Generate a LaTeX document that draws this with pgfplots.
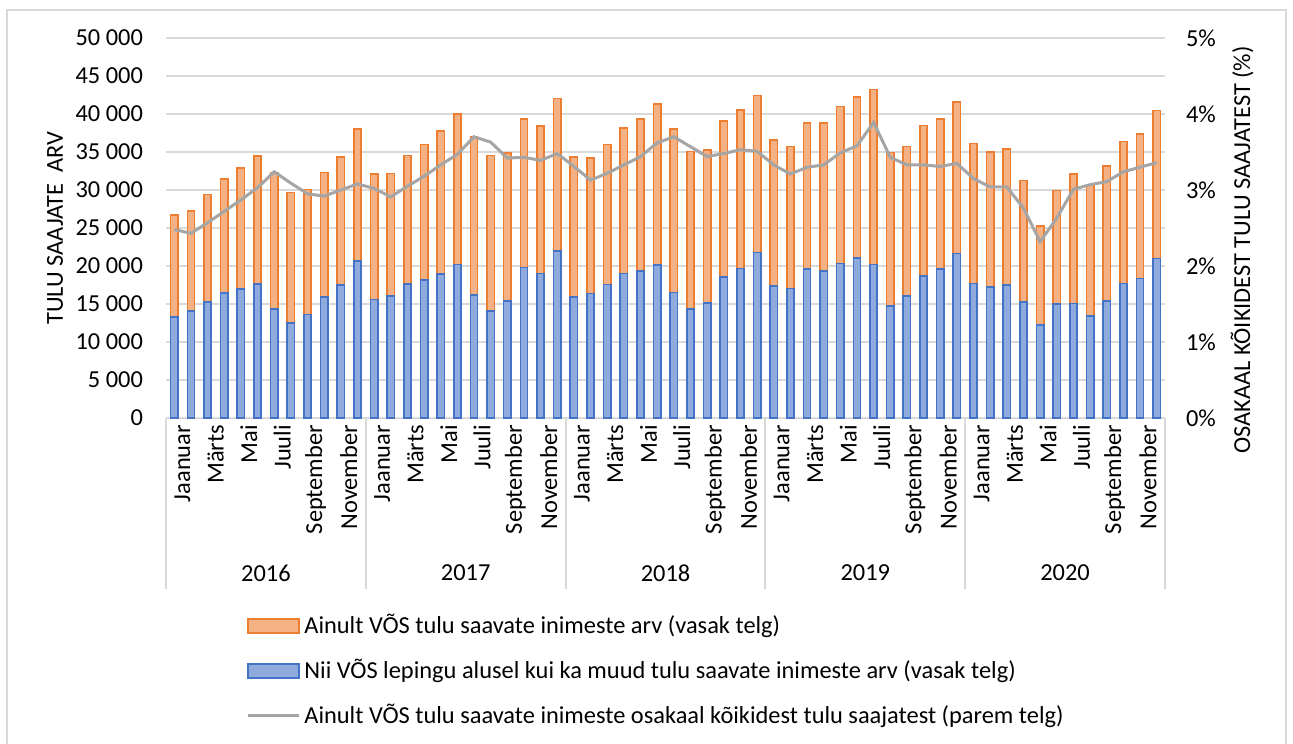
\documentclass[border=0pt]{standalone}
\usepackage{pgfplots}
\pgfplotsset{compat=1.18}
\usepackage{pgfplotstable}
\usepackage{fontspec}
\setmainfont{Carlito}
\definecolor{obar}{HTML}{F4B183}
\definecolor{oedge}{HTML}{ED7D31}
\definecolor{bbar}{HTML}{8FAADC}
\definecolor{bedge}{HTML}{4472C4}
\definecolor{lgray}{HTML}{A5A5A5}
\definecolor{gridc}{HTML}{D9D9D9}
\pgfplotstableread{
x blue orange pct
0 13300 13400 2.48
1 14050 13220 2.43
2 15240 14190 2.57
3 16430 14980 2.72
4 16960 15940 2.87
5 17620 16870 3.03
6 14320 17880 3.24
7 12470 17180 3.09
8 13610 16480 2.95
9 15950 16380 2.92
10 17490 16830 3.00
11 20620 17400 3.08
12 15590 16480 3.02
13 16080 16080 2.91
14 17620 16920 3.05
15 18190 17800 3.18
16 18940 18810 3.33
17 20220 19780 3.47
18 16170 20790 3.70
19 14100 20440 3.63
20 15420 19470 3.42
21 19780 19600 3.43
22 19030 19380 3.39
23 21980 20040 3.48
24 15950 18370 3.31
25 16390 17790 3.13
26 17580 18410 3.22
27 19030 19120 3.33
28 19380 19960 3.44
29 20130 21190 3.62
30 16520 21540 3.70
31 14320 20740 3.57
32 15150 20090 3.44
33 18590 20480 3.48
34 19690 20840 3.53
35 21760 20660 3.51
36 17400 19210 3.33
37 17050 18680 3.21
38 19600 19250 3.30
39 19340 19510 3.33
40 20350 20620 3.49
41 21060 21180 3.58
42 20220 22990 3.89
43 14710 20220 3.43
44 16030 19700 3.33
45 18720 19780 3.33
46 19600 19740 3.31
47 21630 19950 3.35
48 17710 18410 3.15
49 17270 17750 3.04
50 17530 17840 3.04
51 15290 15940 2.76
52 12250 12990 2.32
53 14980 14930 2.63
54 15070 17040 3.01
55 13440 17260 3.07
56 15420 17750 3.11
57 17710 18680 3.24
58 18370 18980 3.30
59 21010 19430 3.36
}\data

\begin{document}
\begin{tikzpicture}[font=\fontsize{12.2}{14.6}\selectfont]
\useasboundingbox (0,0) rectangle (646.5pt,-371.5pt);
\draw[gridc, line width=1pt] (3.5pt,-5pt) rectangle (643pt,-400pt);
\begin{axis}[
  at={(83pt,-209pt)}, anchor=south west,
  scale only axis, width=499.5pt, height=190pt,
  xmin=-0.5, xmax=59.5, ymin=0, ymax=50000,
  clip=false,
  scaled y ticks=false,
  ybar stacked, bar width=0.44,
  axis line style={draw=none},
  ymajorgrids, grid style={gridc, line width=1pt},
  major tick length=0pt,
  tick label style={font=\fontsize{12.2}{14.6}\selectfont},
  ytick={0,5000,10000,15000,20000,25000,30000,35000,40000,45000,50000},
  yticklabels={0,5 000,10 000,15 000,20 000,25 000,30 000,35 000,40 000,45 000,50 000},
  yticklabel style={xshift=-8pt},
  xtick={0,2,...,58},
  xticklabels={Jaanuar,Märts,Mai,Juuli,September,November,Jaanuar,Märts,Mai,Juuli,September,November,Jaanuar,Märts,Mai,Juuli,September,November,Jaanuar,Märts,Mai,Juuli,September,November,Jaanuar,Märts,Mai,Juuli,September,November},
  xticklabel style={rotate=90, anchor=east, yshift=-4pt},
]
\addplot[fill=bbar, draw=bedge, line width=0.8pt] table[x=x,y=blue]{\data};
\addplot[fill=obar, draw=oedge, line width=0.8pt] table[x=x,y=orange]{\data};
\draw[gridc, line width=1pt] (axis cs:-0.5,0) -- (axis cs:59.5,0);
\draw[gridc, line width=1pt] (axis cs:-0.5,0) -- ([yshift=-85.5pt]axis cs:-0.5,0);
\draw[gridc, line width=1pt] (axis cs:11.5,0) -- ([yshift=-85.5pt]axis cs:11.5,0);
\draw[gridc, line width=1pt] (axis cs:23.5,0) -- ([yshift=-85.5pt]axis cs:23.5,0);
\draw[gridc, line width=1pt] (axis cs:35.5,0) -- ([yshift=-85.5pt]axis cs:35.5,0);
\draw[gridc, line width=1pt] (axis cs:47.5,0) -- ([yshift=-85.5pt]axis cs:47.5,0);
\draw[gridc, line width=1pt] (axis cs:59.5,0) -- ([yshift=-85.5pt]axis cs:59.5,0);
\node at ([yshift=-77.5pt]axis cs:5.5,0) {2016};
\node at ([yshift=-77.5pt]axis cs:17.5,0) {2017};
\node at ([yshift=-77.5pt]axis cs:29.5,0) {2018};
\node at ([yshift=-77.5pt]axis cs:41.5,0) {2019};
\node at ([yshift=-77.5pt]axis cs:53.5,0) {2020};
\end{axis}
\begin{axis}[
  at={(83pt,-209pt)}, anchor=south west,
  scale only axis, width=499.5pt, height=190pt,
  xmin=-0.5, xmax=59.5, ymin=0, ymax=5,
  hide x axis,
  axis line style={draw=none},
  major tick length=0pt,
  tick label style={font=\fontsize{12.2}{14.6}\selectfont},
  ytick={0,1,2,3,4,5},
  yticklabels={0\%,1\%,2\%,3\%,4\%,5\%},
  yticklabel pos=right,
  yticklabel style={xshift=7pt},
]
\addplot[lgray, line width=1.5pt, mark=none] table[x=x,y=pct]{\data};
\end{axis}
\node[rotate=90] at (27.5pt,-114pt) {TULU SAAJATE\ \ ARV};
\node[rotate=90] at (621pt,-125pt) {OSAKAAL KÕIKIDEST TULU SAAJATEST (\%)};
\draw[fill=obar, draw=oedge, line width=0.8pt] (124pt,-309.5pt) rectangle (149.5pt,-316.5pt);
\node[anchor=west, inner sep=0pt] at (152pt,-313pt) {Ainult VÕS tulu saavate inimeste arv (vasak telg)};
\draw[fill=bbar, draw=bedge, line width=0.8pt] (124pt,-332pt) rectangle (149.5pt,-339pt);
\node[anchor=west, inner sep=0pt] at (152pt,-335.5pt) {Nii VÕS lepingu alusel kui ka muud tulu saavate inimeste arv (vasak telg)};
\draw[lgray, line width=1.5pt] (124pt,-357.5pt) -- (149.5pt,-357.5pt);
\node[anchor=west, inner sep=0pt] at (152pt,-358pt) {Ainult VÕS tulu saavate inimeste osakaal kõikidest tulu saajatest (parem telg)};
\end{tikzpicture}
\end{document}
